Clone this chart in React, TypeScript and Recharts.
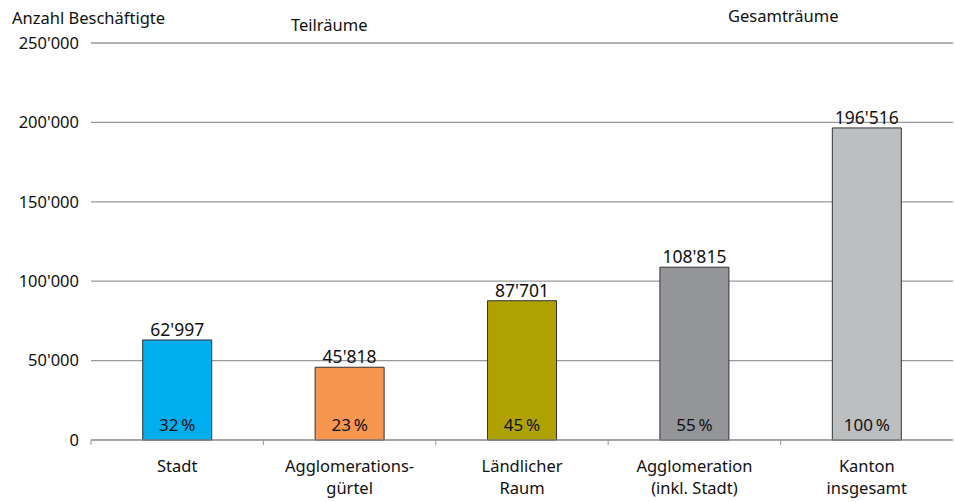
import React from "react";
import { Bar, BarChart, CartesianGrid, Cell, LabelList, XAxis, YAxis } from "recharts";

const categories = [
  ["Stadt"],
  ["Agglomerations-", "gürtel"],
  ["Ländlicher", "Raum"],
  ["Agglomeration", "(inkl. Stadt)"],
  ["Kanton", "insgesamt"],
];
const employees = [62997, 45818, 87701, 108815, 196516];
const shares = [32, 23, 45, 55, 100];
const colors = ["#00aeef", "#f7964f", "#afa100", "#939598", "#bcbec0"];
const yTicks = [0, 50000, 100000, 150000, 200000, 250000];

const W = 954;
const H = 502;
const LEFT = 91;
const RIGHT = 1;
const FONT = "'Noto Sans', sans-serif";
const FS = 16.5;
const bandSize = (W - LEFT - RIGHT) / categories.length;

const data = categories.map((c, i) => ({
  key: c.join(" "),
  lines: c,
  value: employees[i],
  share: shares[i],
}));

const fmt = (v: number) => String(v).replace(/\B(?=(\d{3})+(?!\d))/g, "'");

function CategoryTick(props: any) {
  const { x, y, index } = props;
  const lines: string[] = data[index].lines;
  const left = x - bandSize / 2;
  return (
    <g>
      <line x1={left} x2={left} y1={y - 8} y2={y - 3} stroke="#999" />
      <text x={x} y={y + 24} textAnchor="middle" fontSize={FS} fill="#111" fontFamily={FONT}>
        {lines.map((l, i) => (
          <tspan key={i} x={x} dy={i === 0 ? 0 : 22}>
            {l}
          </tspan>
        ))}
      </text>
    </g>
  );
}

function ShareLabel(props: any) {
  const { x, y, width, height, index } = props;
  return (
    <text
      x={x + width / 2}
      y={y + height - 9}
      textAnchor="middle"
      fontSize={17}
      fill="#111"
      fontFamily={FONT}
    >
      {shares[index] + "\u2009%"}
    </text>
  );
}

export default function App() {
  return (
    <div style={{ width: W, height: H, position: "relative", fontFamily: FONT }}>
      <style>{"body{margin:0}"}</style>
      <BarChart
        width={W}
        height={H}
        data={data}
        margin={{ top: 43, right: RIGHT, left: 0, bottom: 0 }}
        barCategoryGap="30%"
      >
        <CartesianGrid vertical={false} stroke="#999" strokeWidth={1.3} />
        <XAxis
          dataKey="key"
          height={62}
          interval={0}
          axisLine={{ stroke: "#999" }}
          tickLine={false}
          tick={<CategoryTick />}
        />
        <YAxis
          width={LEFT}
          domain={[0, 250000]}
          ticks={yTicks}
          axisLine={false}
          tickLine={false}
          tickFormatter={fmt}
          tick={{ fontSize: FS, fill: "#111", fontFamily: FONT, dx: -4 }}
        />
        <Bar dataKey="value" stroke="#333" strokeWidth={1} isAnimationActive={false}>
          {data.map((d, i) => (
            <Cell key={d.key} fill={colors[i]} />
          ))}
          <LabelList
            dataKey="value"
            position="top"
            formatter={(v: any) => fmt(v)}
            style={{ fontSize: 17.5, fill: "#111", fontFamily: FONT }}
            offset={4}
          />
          <LabelList dataKey="share" content={<ShareLabel />} />
        </Bar>
      </BarChart>
      <div style={{ position: "absolute", left: 12, top: 6, fontSize: FS, color: "#111" }}>
        Anzahl Beschäftigte
      </div>
      <div style={{ position: "absolute", left: 291, top: 13, fontSize: FS, color: "#111" }}>
        Teilräume
      </div>
      <div style={{ position: "absolute", left: 728, top: 4, fontSize: FS, color: "#111" }}>
        Gesamträume
      </div>
    </div>
  );
}
